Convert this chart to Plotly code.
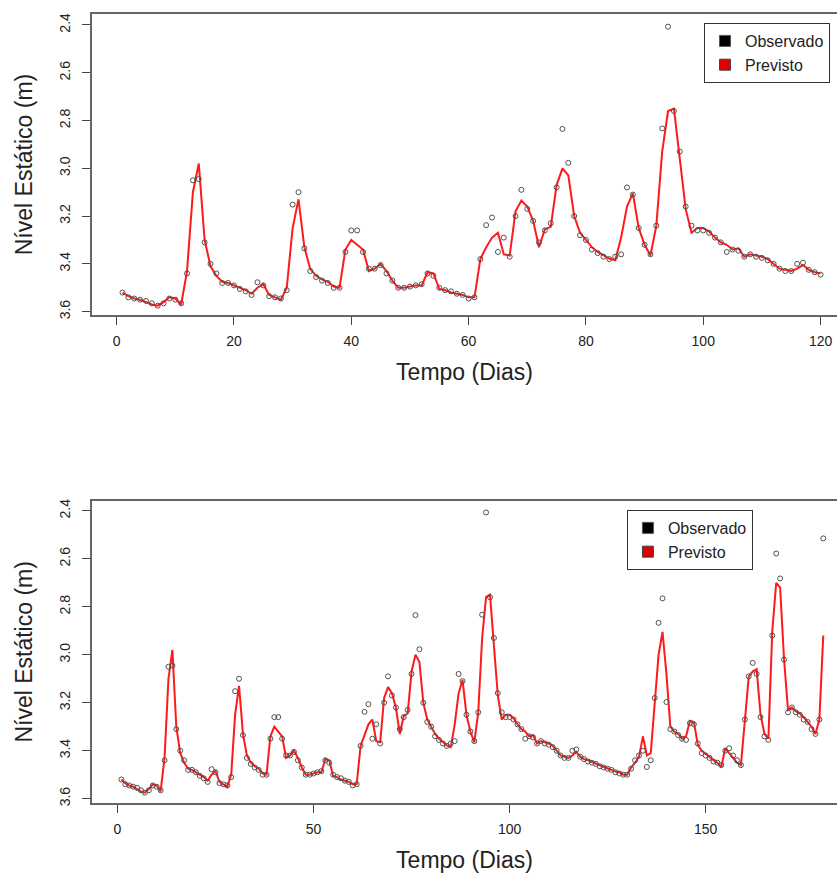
import plotly.graph_objects as go

# ---------------- data ----------------
dias = list(range(1, 181))

observado = [
    3.52, 3.54, 3.545, 3.55, 3.555, 3.565, 3.575, 3.565, 3.545, 3.55,
    3.565, 3.44, 3.05, 3.045, 3.31, 3.40, 3.44, 3.48, 3.48, 3.49,
    3.505, 3.515, 3.53, 3.477, 3.49, 3.535, 3.54, 3.545, 3.51, 3.152,
    3.10, 3.335, 3.43, 3.455, 3.47, 3.48, 3.50, 3.50, 3.35, 3.26,
    3.26, 3.35, 3.42, 3.42, 3.405, 3.44, 3.47, 3.50, 3.50, 3.495,
    3.49, 3.485, 3.44, 3.45, 3.50, 3.51, 3.515, 3.525, 3.53, 3.545,
    3.54, 3.38, 3.238, 3.206, 3.35, 3.29, 3.37, 3.20, 3.09, 3.17,
    3.22, 3.31, 3.26, 3.23, 3.08, 2.835, 2.977, 3.20, 3.28, 3.30,
    3.34, 3.355, 3.37, 3.38, 3.37, 3.36, 3.08, 3.11, 3.25, 3.32,
    3.36, 3.24, 2.833, 2.407, 2.76, 2.93, 3.16, 3.24, 3.26, 3.26,
    3.27, 3.29, 3.31, 3.35, 3.34, 3.345, 3.37, 3.36, 3.37, 3.375,
    3.385, 3.40, 3.42, 3.43, 3.43, 3.40, 3.395, 3.425, 3.435, 3.445,
    3.45, 3.455, 3.465, 3.47, 3.475, 3.48, 3.49, 3.495, 3.50, 3.50,
    3.475, 3.44, 3.42, 3.40, 3.468, 3.44, 3.18, 2.867, 2.765, 3.197,
    3.31, 3.32, 3.335, 3.35, 3.355, 3.285, 3.29, 3.37, 3.41, 3.42,
    3.43, 3.445, 3.45, 3.46, 3.40, 3.39, 3.42, 3.44, 3.46, 3.27,
    3.09, 3.034, 3.08, 3.26, 3.34, 3.355, 2.92, 2.578, 2.682, 3.02,
    3.24, 3.22, 3.24, 3.25, 3.27, 3.28, 3.31, 3.33, 3.27, 2.515,
]

previsto = [
    3.52, 3.535, 3.545, 3.55, 3.56, 3.57, 3.575, 3.56, 3.54, 3.545,
    3.57, 3.43, 3.10, 2.98, 3.30, 3.41, 3.45, 3.475, 3.48, 3.49,
    3.50, 3.51, 3.525, 3.50, 3.485, 3.53, 3.54, 3.55, 3.50, 3.25,
    3.13, 3.33, 3.42, 3.45, 3.465, 3.475, 3.495, 3.50, 3.34, 3.30,
    3.32, 3.34, 3.43, 3.42, 3.40, 3.43, 3.47, 3.50, 3.50, 3.495,
    3.49, 3.49, 3.435, 3.44, 3.505, 3.51, 3.52, 3.525, 3.53, 3.54,
    3.54, 3.38, 3.33, 3.29, 3.27, 3.36, 3.365, 3.18, 3.135, 3.16,
    3.22, 3.33, 3.255, 3.245, 3.07, 3.00, 3.03, 3.20, 3.27, 3.30,
    3.33, 3.35, 3.365, 3.378, 3.385, 3.29, 3.16, 3.105, 3.25, 3.32,
    3.365, 3.24, 2.93, 2.76, 2.75, 2.95, 3.17, 3.27, 3.25, 3.25,
    3.265, 3.29, 3.31, 3.32, 3.34, 3.335, 3.37, 3.36, 3.365, 3.37,
    3.38, 3.40, 3.42, 3.425, 3.43, 3.42, 3.405, 3.425, 3.435, 3.44,
    3.447, 3.455, 3.46, 3.47, 3.474, 3.48, 3.487, 3.49, 3.50, 3.50,
    3.47, 3.45, 3.426, 3.34, 3.42, 3.41, 3.20, 3.00, 2.905, 3.08,
    3.30, 3.32, 3.33, 3.35, 3.34, 3.275, 3.28, 3.375, 3.40, 3.415,
    3.426, 3.44, 3.45, 3.468, 3.39, 3.41, 3.43, 3.45, 3.46, 3.26,
    3.09, 3.07, 3.06, 3.25, 3.33, 3.35, 2.90, 2.70, 2.72, 3.02,
    3.23, 3.22, 3.235, 3.245, 3.26, 3.28, 3.30, 3.33, 3.27, 2.92,
]

n_top = 120
y_ticks = [2.4, 2.6, 2.8, 3.0, 3.2, 3.4, 3.6]
y_tick_text = ["2.4", "2.6", "2.8", "3.0", "3.2", "3.4", "3.6"]
x_ticks_top = [0, 20, 40, 60, 80, 100, 120]
x_ticks_bottom = [0, 50, 100, 150]

# ---------------- style ----------------
FONT = "Liberation Sans, Arial, sans-serif"
RED = "#ff1a1a"
CIRCLE = "#505050"

fig = go.Figure()

def add_panel(xa, ya, n, legend_name):
    fig.add_trace(go.Scatter(
        x=dias[:n], y=previsto[:n], mode="lines",
        line=dict(color=RED, width=2),
        xaxis=xa, yaxis=ya, showlegend=False, hoverinfo="skip"))
    fig.add_trace(go.Scatter(
        x=dias[:n], y=observado[:n], mode="markers",
        marker=dict(symbol="circle-open", size=5, color=CIRCLE,
                    line=dict(width=1, color=CIRCLE)),
        xaxis=xa, yaxis=ya, showlegend=False, hoverinfo="skip"))
    # legend entries (filled squares, like the R legend)
    fig.add_trace(go.Scatter(
        x=[None], y=[None], mode="markers", name="Observado",
        marker=dict(symbol="square", size=11, color="#000000",
                    line=dict(width=1, color="#555555")),
        xaxis=xa, yaxis=ya, legend=legend_name))
    fig.add_trace(go.Scatter(
        x=[None], y=[None], mode="markers", name="Previsto",
        marker=dict(symbol="square", size=11, color="#e00000",
                    line=dict(width=1, color="#444444")),
        xaxis=xa, yaxis=ya, legend=legend_name))

add_panel("x", "y", n_top, "legend")
add_panel("x2", "y2", len(dias), "legend2")

axis_common = dict(
    showgrid=False, zeroline=False, ticks="outside", ticklen=8,
    tickwidth=1, tickcolor="#444", showline=True, linecolor="#666",
    linewidth=1.5, tickfont=dict(family=FONT, size=14, color="#222"),
)

xa_title = dict(text="Tempo (Dias)", font=dict(family=FONT, size=23, color="#222"),
                standoff=16)
ya_title = dict(text="Nível Estático (m)", font=dict(family=FONT, size=23, color="#222"),
                standoff=18)

fig.update_layout(
    width=838, height=883,
    margin=dict(l=92, r=1, t=14, b=80),
    plot_bgcolor="white", paper_bgcolor="white",
    font=dict(family=FONT, color="#222"),
    xaxis=dict(domain=[0, 1], anchor="y", range=[-4.2, 122.8],
               tickvals=x_ticks_top, mirror=True, title=xa_title,
               ticklabelstandoff=4, **axis_common),
    yaxis=dict(domain=[0.6185, 1], anchor="x", range=[3.614, 2.354],
               tickvals=y_ticks, ticktext=y_tick_text, tickangle=-90,
               title=ya_title, ticklabelstandoff=7, **axis_common),
    xaxis2=dict(domain=[0, 1], anchor="y2", range=[-6.5, 183.5],
                tickvals=x_ticks_bottom, mirror=True, title=xa_title,
                ticklabelstandoff=4, **axis_common),
    yaxis2=dict(domain=[0, 0.3831], anchor="x2", range=[3.618, 2.358],
                tickvals=y_ticks, ticktext=y_tick_text, tickangle=-90,
                title=ya_title, ticklabelstandoff=7, **axis_common),
    legend=dict(x=0.8215, y=0.9886, xanchor="left", yanchor="top",
                bordercolor="#333", borderwidth=1, bgcolor="white",
                font=dict(family=FONT, size=16, color="#222"),
                itemwidth=30, tracegroupgap=0),
    legend2=dict(x=0.718, y=0.3714, xanchor="left", yanchor="top",
                 bordercolor="#333", borderwidth=1, bgcolor="white",
                 font=dict(family=FONT, size=16, color="#222"),
                 itemwidth=30, tracegroupgap=0),
)

# remove the default page margin so the figure sits at the window's corner
fig.write_html(
    "out.html",
    config={"displayModeBar": False},
    post_script="document.body.style.margin='0';document.body.style.overflow='hidden';",
)
